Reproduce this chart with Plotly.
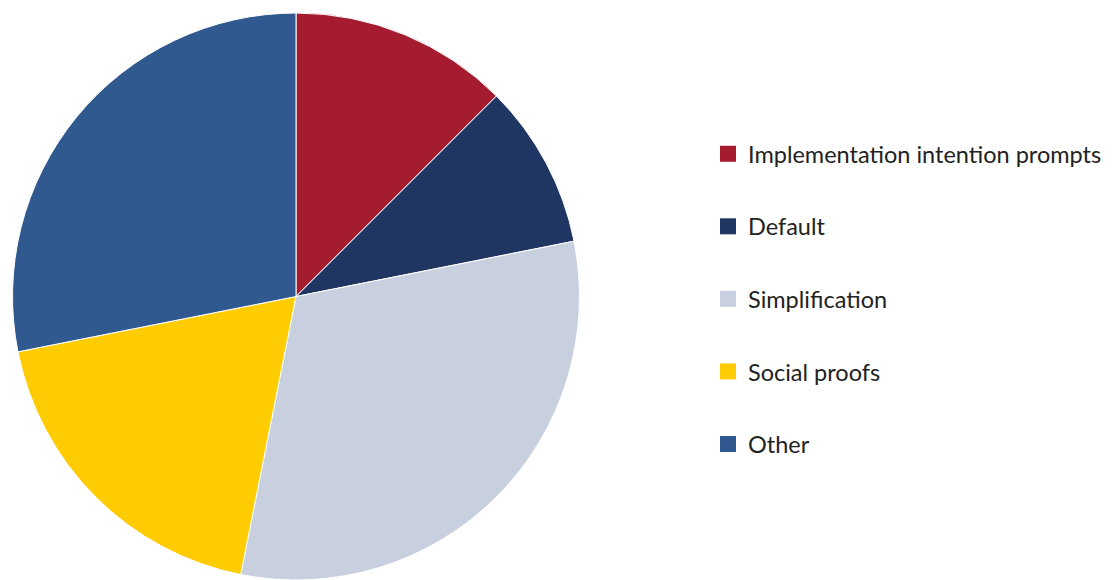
import plotly.graph_objects as go

labels = ["Implementation intention prompts", "Default", "Simplification", "Social proofs", "Other"]
values = [4, 3, 10, 6, 9]
colors = ["#A51C30", "#1F3562", "#C8CFDE", "#FECC00", "#305A8F"]

W, H = 1114, 580
cx, cy, r = 296, 297, 284

fig = go.Figure()
fig.add_trace(go.Pie(
    labels=labels, values=values, sort=False, direction="clockwise", rotation=0,
    marker=dict(colors=colors, line=dict(color="white", width=1)),
    textinfo="none", showlegend=False, hoverinfo="label+percent",
    domain=dict(x=[(cx - r) / W, (cx + r) / W], y=[max(0, (H - cy - r) / H), (H - cy + r) / H]),
))
for i, (lab, col) in enumerate(zip(labels, colors)):
    fig.add_trace(go.Scatter(
        x=[None], y=[None], mode="markers", name=lab, legendgroup=f"g{i}",
        marker=dict(symbol="square", size=16, color=col),
    ))

fig.update_layout(
    width=W, height=H, margin=dict(l=0, r=0, t=0, b=0),
    paper_bgcolor="white", plot_bgcolor="white",
    font=dict(family="Lato", size=23.5, color="#222222"),
    xaxis=dict(visible=False), yaxis=dict(visible=False),
    legend=dict(x=708 / W, xanchor="left", y=(H - 299) / H, yanchor="middle",
                tracegroupgap=39, bgcolor="rgba(0,0,0,0)",
                font=dict(family="Lato", size=23.5, color="#222222")),
)
fig.write_html("out.html")
